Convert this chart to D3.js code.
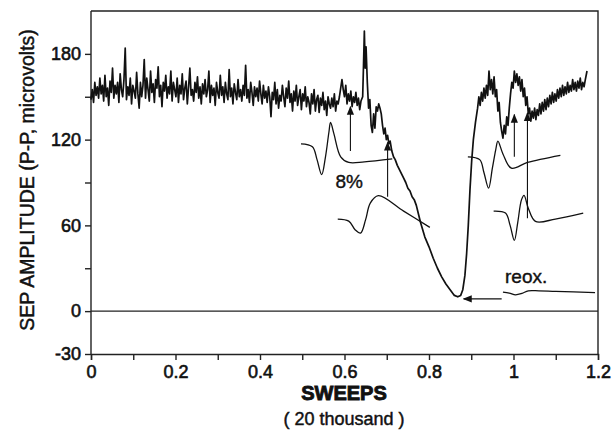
<!DOCTYPE html>
<meta charset="utf-8">
<script src="https://d3js.org/d3.v7.min.js"></script>
<style>
    body { margin: 0; background: #fff; }
    text { font-family: "Liberation Sans", Arial, sans-serif; fill: #111; }
    .tick text { font-size: 18px; stroke: #111; stroke-width: 0.6px; }
    .domain, .tick line { stroke: #222; stroke-width: 1.4; }
    .trace { fill: none; stroke: #111; stroke-width: 1.7; stroke-linejoin: round; }
    .inset { fill: none; stroke: #111; stroke-width: 1.3; }
    .arrow { stroke: #111; stroke-width: 1.1; }
    .frame { fill: none; stroke: #222; stroke-width: 1.4; }
</style>
<div id="chart"></div>
<script>
// axis ticks
const xTicks = [0, 0.1, 0.2, 0.3, 0.4, 0.5, 0.6, 0.7, 0.8, 0.9, 1, 1.1, 1.2];
const xLabels = [0, 0.2, 0.4, 0.6, 0.8, 1, 1.2];
const yTicks = [-30, 0, 30, 60, 90, 120, 150, 180];
const yLabels = [-30, 0, 60, 120, 180];

// baseline recording, one reading every 0.003 sweeps from 0
const sweepStep = 0.003;
const baseline = [
    148,155,146,160,151,157,149,163,152,158,
    147,165,150,156,144,161,153,170,149,158,
    152,160,146,166,155,150,162,184,148,157,
    151,163,145,158,154,149,167,152,142,160,
    150,158,176,149,163,155,147,168,153,159,
    146,162,156,171,150,158,143,160,154,165,
    149,157,152,168,147,160,155,150,163,146,
    158,152,166,148,156,161,145,157,170,151,
    155,147,160,153,164,149,157,145,159,152,
    162,150,155,168,146,158,151,156,144,160,
    153,149,165,151,157,146,160,152,148,169,
    150,156,145,159,153,148,162,150,155,147,
    158,151,172,149,155,146,160,153,144,157,
    150,156,147,161,152,145,158,149,154,146,
    157,150,136,153,148,160,145,155,142,151,
    147,158,150,143,156,149,161,146,152,140,
    154,147,158,144,150,155,141,152,147,157,
    143,150,146,138,152,145,155,140,148,151,
    139,149,144,153,141,147,137,150,145,142,
    149,143,152,140,147,145,150,156,162,155,
    150,158,145,152,147,154,143,150,146,153,
    144,149,141,147
];

// hypoxia, recovery and reoxygenation [sweeps, amplitude]
const hypoxia = [
    [0.643,150],[0.645,172],[0.647,196],[0.649,170],[0.651,185],[0.654,160],[0.657,142],
    [0.660,148],[0.663,130],[0.666,125],[0.669,138],[0.672,128],[0.675,143],[0.678,140],
    [0.681,145],[0.684,142],[0.687,138],[0.690,130],[0.693,124],[0.696,128],[0.699,120],
    [0.702,123],[0.705,117],[0.708,119],[0.712,112],[0.716,108],[0.720,106],[0.725,102],
    [0.730,99],[0.735,96],[0.740,93],[0.745,90],[0.750,86],[0.755,84],[0.760,80],
    [0.765,78],[0.770,74],[0.775,68],[0.780,62],[0.790,52],[0.800,45],[0.810,37],
    [0.820,30],[0.830,24],[0.840,19],[0.850,15],[0.860,11],[0.868,10],[0.875,11],
    [0.880,15],[0.885,25],[0.889,40],[0.893,60],[0.897,85],[0.901,105],[0.905,120],
    [0.910,132],[0.915,142],[0.918,150],[0.921,144],[0.924,153],[0.927,147],[0.930,156],
    [0.933,149],[0.936,158],[0.939,151],[0.942,168],[0.945,155],[0.948,162],[0.951,152],
    [0.954,164],[0.957,150],[0.960,155],[0.963,140],[0.966,146],[0.969,132],[0.972,126],
    [0.975,121],[0.978,130],[0.981,124],[0.984,136],[0.987,130],[0.990,142],[0.993,152],
    [0.996,160],[0.999,156],[1.002,168],[1.005,160],[1.008,166],[1.011,158],[1.014,164],
    [1.017,154],[1.020,162],[1.023,150],[1.026,156],[1.029,144],[1.032,150],[1.035,138],
    [1.038,142],[1.041,133],[1.044,140],[1.047,135],[1.050,142],[1.053,134],[1.056,141],
    [1.059,137],[1.062,145],[1.065,138],[1.068,146],[1.071,140],[1.074,148],[1.077,141],
    [1.080,149],[1.083,143],[1.086,151],[1.089,145],[1.092,153],[1.095,146],[1.098,152],
    [1.101,147],[1.104,155],[1.107,149],[1.110,156],[1.113,150],[1.116,158],[1.119,151],
    [1.122,157],[1.125,152],[1.128,160],[1.131,153],[1.134,158],[1.137,154],[1.140,162],
    [1.143,155],[1.146,160],[1.149,154],[1.152,161],[1.155,156],[1.158,163],[1.161,155],
    [1.164,160],[1.167,157],[1.170,162],[1.174,168]
];

// evoked potential waveforms drawn inside the plot
const waveControl = [[0.497,117],[0.524,115],[0.535,106],[0.546,95.5],[0.555,108],[0.563,125],[0.567,132],[0.575,124],[0.591,108],[0.610,104],[0.647,104.4],[0.713,106.5]];
const wave8pct = [[0.584,64.4],[0.610,63],[0.625,57],[0.638,54.6],[0.650,64],[0.661,75.6],[0.680,80.8],[0.740,70],[0.802,58.6]];
const waveRecov1 = [[0.892,108],[0.920,106],[0.930,97],[0.941,86],[0.950,100],[0.958,113],[0.963,119],[0.975,110],[0.995,100],[1.033,104],[1.111,109]];
const waveRecov2 = [[0.953,70],[0.981,68.6],[0.992,60],[1.002,49.5],[1.010,62],[1.019,78],[1.025,81],[1.035,72],[1.052,62.8],[1.099,64.4],[1.165,68.6]];
const waveReox = [[0.975,13.3],[0.990,12.6],[1.005,11.4],[1.020,12.4],[1.035,14.2],[1.060,14.2],[1.100,13.8],[1.193,13.0]];

// arrows [x1, y1, x2, y2], head at the second point
const arrows = [
    [0.614, 112, 0.614, 143],
    [0.702, 80, 0.702, 118],
    [1.002, 108, 1.002, 137.5],
    [1.033, 65, 1.033, 138.7],
    [0.972, 8.6, 0.882, 8.6]
];

const notes = [
    {x: 0.611, y: 91, text: "8%"},
    {x: 1.030, y: 24, text: "reox."}
];

const margin = {top: 11, right: 16, bottom: 85, left: 91},
    width = 614 - margin.left - margin.right,
    height = 439 - margin.top - margin.bottom;

const x = d3.scaleLinear().domain([0, 1.2]).range([0, width]);
const y = d3.scaleLinear().domain([-30, 210]).range([height, 0]);

const svg = d3.select("#chart").append("svg")
    .attr("width", 614)
    .attr("height", 439)
    .append("g")
    .attr("transform", "translate(" + margin.left + "," + margin.top + ")");

svg.append("defs").append("marker")
    .attr("id", "head")
    .attr("viewBox", "0 0 10 10")
    .attr("refX", 9).attr("refY", 5)
    .attr("markerWidth", 9).attr("markerHeight", 9)
    .attr("markerUnits", "userSpaceOnUse")
    .attr("orient", "auto")
    .append("path").attr("d", "M0,1 L10,5 L0,9 Z").attr("fill", "#111");

// frame: top and right
svg.append("path").attr("class", "frame")
    .attr("d", "M0," + y(210) + "H" + x(1.2) + "V" + y(-30));

svg.append("g")
    .attr("transform", "translate(0," + height + ")")
    .call(d3.axisBottom(x).tickValues(xTicks).tickSize(6).tickPadding(5)
        .tickFormat(d => xLabels.includes(d) ? d3.format("~g")(d) : ""));

svg.append("g")
    .call(d3.axisLeft(y).tickValues(yTicks).tickSize(6).tickPadding(4)
        .tickFormat(d => yLabels.includes(d) ? d : ""))
    .call(g => g.selectAll(".domain").attr("d", "M0," + y(-30) + "V" + y(210)));

// zero line
svg.append("line").attr("class", "frame")
    .attr("x1", x(0)).attr("x2", x(1.2))
    .attr("y1", y(0)).attr("y2", y(0));

const line = d3.line().x(d => x(d[0])).y(d => y(d[1]));
const smooth = d3.line().x(d => x(d[0])).y(d => y(d[1])).curve(d3.curveCatmullRom);

const trace = baseline.map((v, i) => [i * sweepStep, v]).concat(hypoxia);
svg.append("path").attr("class", "trace").attr("d", line(trace));

[waveControl, wave8pct, waveRecov1, waveRecov2, waveReox].forEach(w => {
    svg.append("path").attr("class", "inset").attr("d", smooth(w));
});

arrows.forEach(a => {
    svg.append("line").attr("class", "arrow")
        .attr("x1", x(a[0])).attr("y1", y(a[1]))
        .attr("x2", x(a[2])).attr("y2", y(a[3]))
        .attr("marker-end", "url(#head)");
});

notes.forEach(n => {
    svg.append("text")
        .attr("x", x(n.x)).attr("y", y(n.y))
        .attr("text-anchor", "middle")
        .attr("dy", "0.35em")
        .style("font-size", "19px")
        .style("stroke", "#111").style("stroke-width", "0.4px")
        .text(n.text);
});

// axis titles
svg.append("text")
    .attr("x", 253).attr("y", height + 46)
    .attr("text-anchor", "middle")
    .style("font-size", "20px").style("font-weight", "bold")
    .style("stroke", "#111").style("stroke-width", "0.9px")
    .text("SWEEPS");

svg.append("text")
    .attr("x", 253).attr("y", height + 71)
    .attr("text-anchor", "middle")
    .style("font-size", "18px")
    .style("stroke", "#111").style("stroke-width", "0.45px")
    .text("( 20 thousand )");

svg.append("text")
    .attr("transform", "translate(" + (-57) + "," + 169 + ") rotate(-90)")
    .attr("text-anchor", "middle")
    .style("font-size", "19.5px")
    .style("stroke", "#111").style("stroke-width", "0.45px")
    .text("SEP AMPLITUDE (P-P, microvolts)");
</script>
